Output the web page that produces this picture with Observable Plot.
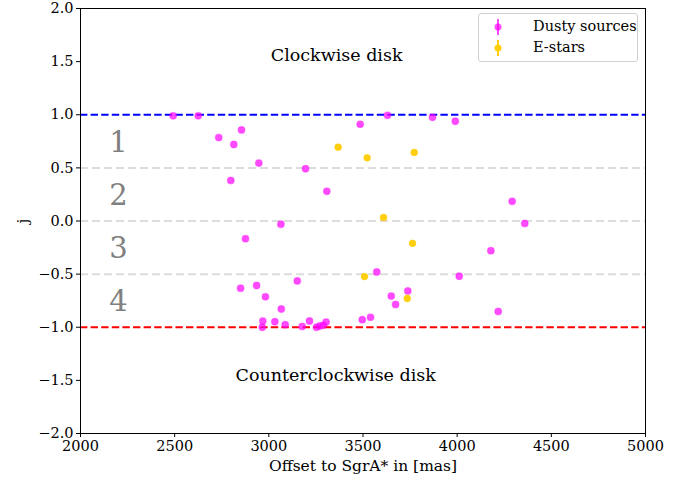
<!DOCTYPE html>
<html>
<head>
<meta charset="utf-8">
<script src="https://cdn.jsdelivr.net/npm/d3@7"></script>
<script src="https://cdn.jsdelivr.net/npm/@observablehq/plot@0.6"></script>
<style>
  body { margin: 0; background: #fff; }
  #wrap { position: relative; width: 698px; height: 484px; font-family: "DejaVu Serif", serif; }
  #legend { position: absolute; left: 478px; top: 13px; width: 158px; height: 47px; border: 1px solid #d0d0d0; border-radius: 3px; background: rgba(255,255,255,0.8); font-size: 14.5px; }
  #legend .row { position: absolute; left: 0; height: 20px; width: 158px; }
  #legend .row span { position: absolute; left: 54px; top: 1px; color: #000; white-space: nowrap; }
</style>
</head>
<body>
<div id="wrap"></div>
<script>
// Dusty sources
const dustyX = [2492, 2625, 2734, 2855, 2814, 2947, 2798, 3195, 3308, 3064, 2876, 3485, 3630, 3869, 3990, 4292, 4359, 4179, 4011, 4218, 3573, 3650, 3673, 3738, 3496, 3540, 2850, 2935, 2982, 3066, 3151, 2968, 2965, 3032, 3087, 3177, 3216, 3253, 3271, 3289, 3304];
const dustyJ = [0.99, 0.99, 0.785, 0.857, 0.72, 0.545, 0.382, 0.492, 0.279, -0.03, -0.166, 0.91, 0.995, 0.976, 0.939, 0.185, -0.023, -0.279, -0.52, -0.851, -0.48, -0.707, -0.785, -0.658, -0.929, -0.907, -0.632, -0.607, -0.714, -0.828, -0.564, -0.942, -1.0, -0.948, -0.976, -0.992, -0.941, -1.0, -0.988, -0.982, -0.951];
// E-stars
const estarX = [3368, 3522, 3772, 3609, 3763, 3508, 3735];
const estarJ = [0.695, 0.595, 0.645, 0.033, -0.21, -0.523, -0.729];

const xTicks = [2000, 2500, 3000, 3500, 4000, 4500, 5000];
const yTicks = [-2.0, -1.5, -1.0, -0.5, 0.0, 0.5, 1.0, 1.5, 2.0];
const sepLines = [0.5, 0.0, -0.5];
const regionLabels = ["1", "2", "3", "4"];
const regionJ = [0.74, 0.24, -0.26, -0.76];
const regionX = 2202;
const diskLabels = ["Clockwise disk", "Counterclockwise disk"];
const diskJ = [1.56, -1.45];
const diskX = [3360, 3355];

const dusty = dustyX.map((x, i) => ({x, j: dustyJ[i]}));
const estar = estarX.map((x, i) => ({x, j: estarJ[i]}));
const regions = regionLabels.map((t, i) => ({t, x: regionX, j: regionJ[i]}));
const disks = diskLabels.map((t, i) => ({t, x: diskX[i], j: diskJ[i]}));

const fmtY = d => d.toFixed(1).replace("-", "\u2212");
const fmtX = d => String(d);

const chart = Plot.plot({
  width: 698,
  height: 484,
  marginLeft: 80,
  marginRight: 53,
  marginTop: 8,
  marginBottom: 51,
  style: { fontFamily: "DejaVu Serif, serif", fontSize: "12px", color: "#000", background: "#fff" },
  x: { domain: [2000, 5000], ticks: xTicks, tickFormat: fmtX, label: null },
  y: { domain: [-2, 2], ticks: yTicks, tickFormat: fmtY, label: null },
  marks: [
    Plot.ruleY(sepLines, { stroke: "#dddddd", strokeWidth: 2, strokeDasharray: "8,4" }),
    Plot.ruleY([1], { stroke: "#0000ff", strokeWidth: 2, strokeDasharray: "7.4,3.2" }),
    Plot.ruleY([-1], { stroke: "#ff0000", strokeWidth: 2, strokeDasharray: "7.4,3.2" }),
    Plot.dot(dusty, { x: "x", y: "j", r: 3.4, fill: "#ff00ff", fillOpacity: 0.7, stroke: "#ff00ff", strokeOpacity: 0.35, strokeWidth: 1.2 }),
    Plot.dot(estar, { x: "x", y: "j", r: 3.4, fill: "#ffcc00", fillOpacity: 0.95, stroke: "#ffcc00", strokeOpacity: 0.5, strokeWidth: 1 }),
    Plot.text(regions, { x: "x", y: "j", text: "t", fontSize: 29, fill: "#808080", textAnchor: "middle" }),
    Plot.text(disks, { x: "x", y: "j", text: "t", fontSize: 17.5, fill: "#000", textAnchor: "middle" }),
    Plot.axisX({ ticks: xTicks, tickFormat: fmtX, tickSize: 4, tickPadding: 3, fontSize: 14.5, label: null }),
    Plot.axisX({ ticks: [], label: "Offset to SgrA* in [mas]", labelAnchor: "center", labelOffset: 37, labelArrow: "none", fontSize: 15.5 }),
    Plot.axisY({ ticks: yTicks, tickSize: 4, tickPadding: 3, fontSize: 14.5, tickFormat: fmtY, label: null }),
    Plot.axisY({ ticks: [], label: "j", labelAnchor: "center", labelOffset: 64, labelArrow: "none", fontSize: 15.5 }),
    Plot.frame({ stroke: "#000", strokeWidth: 1 })
  ]
});

const wrap = document.getElementById("wrap");
wrap.appendChild(chart);

const legend = document.createElement("div");
legend.id = "legend";
const items = [["Dusty sources", "#ff00ff", 0.7], ["E-stars", "#ffcc00", 0.95]];
items.forEach(([label, color, op], i) => {
  const row = document.createElement("div");
  row.className = "row";
  row.style.top = (3 + i * 21) + "px";
  row.innerHTML = `<svg width="12" height="20" style="position:absolute;left:13px;top:0px">
      <line x1="6" x2="6" y1="2" y2="18" stroke="${color}" stroke-width="2" opacity="${op}"/>
      <circle cx="6" cy="10" r="3.5" fill="${color}" fill-opacity="${op}"/>
    </svg><span>${label}</span>`;
  legend.appendChild(row);
});
wrap.appendChild(legend);
</script>
</body>
</html>
